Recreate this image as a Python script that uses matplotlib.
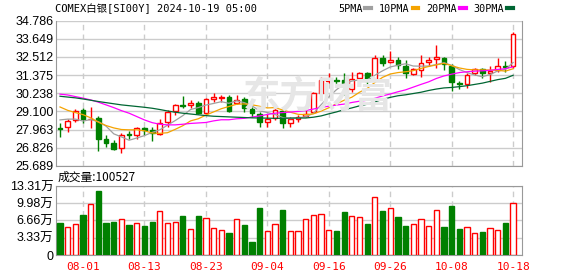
import matplotlib.pyplot as plt
import numpy as np

# COMEX silver daily K-line, 60 sessions
title = 'COMEX白银[SI00Y] 2024-10-19 05:00'
dates = ['07-29', '07-30', '07-31', '08-01', '08-02', '08-05', '08-06', '08-07', '08-08', '08-09',
         '08-12', '08-13', '08-14', '08-15', '08-16', '08-19', '08-20', '08-21', '08-22', '08-23',
         '08-26', '08-27', '08-28', '08-29', '08-30', '09-02', '09-03', '09-04', '09-05', '09-06',
         '09-09', '09-10', '09-11', '09-12', '09-13', '09-16', '09-17', '09-18', '09-19', '09-20',
         '09-23', '09-24', '09-25', '09-26', '09-27', '09-30', '10-01', '10-02', '10-03', '10-04',
         '10-07', '10-08', '10-09', '10-10', '10-11', '10-14', '10-15', '10-16', '10-17', '10-18']
opens = [28.08, 28.11, 28.57, 29.20, 28.60, 28.68, 27.38, 27.15, 26.80, 27.72,
         27.63, 28.05, 27.94, 27.69, 28.46, 29.15, 29.50, 29.52, 29.63, 29.00,
         29.90, 29.95, 30.00, 29.65, 29.86, 29.26, 28.94, 28.46, 28.68, 29.15,
         28.36, 28.65, 28.82, 29.09, 30.28, 31.03, 31.06, 31.07, 30.49, 31.18,
         31.53, 31.07, 32.43, 32.18, 32.33, 31.97, 31.45, 31.70, 32.18, 32.36,
         32.43, 31.91, 30.86, 30.82, 31.49, 31.74, 31.49, 31.70, 31.91, 31.91]
highs = [28.36, 28.61, 29.24, 29.30, 29.40, 28.82, 27.63, 27.32, 27.74, 27.90,
         28.11, 28.11, 28.15, 28.61, 29.20, 29.57, 30.07, 29.80, 29.77, 29.96,
         30.26, 30.14, 30.13, 30.13, 29.99, 29.40, 29.09, 28.94, 29.57, 29.30,
         28.74, 28.88, 29.24, 30.34, 31.28, 31.49, 31.28, 31.53, 31.59, 31.59,
         31.59, 32.64, 32.64, 32.85, 32.51, 32.32, 31.84, 32.64, 32.49, 33.26,
         32.53, 32.05, 31.00, 31.49, 31.84, 31.80, 31.91, 32.43, 32.24, 34.06]
lows = [27.52, 27.84, 28.46, 28.36, 28.05, 26.65, 26.90, 26.69, 26.53, 27.36,
        27.36, 27.63, 27.27, 27.63, 28.15, 28.88, 29.30, 29.30, 28.91, 28.91,
        29.72, 29.72, 29.09, 29.57, 29.09, 28.74, 28.11, 28.15, 28.57, 28.05,
        28.11, 28.46, 28.74, 29.03, 30.24, 30.86, 30.82, 30.13, 30.34, 31.07,
        30.82, 31.03, 31.91, 32.12, 31.76, 31.22, 31.40, 31.28, 31.91, 31.81,
        31.70, 30.40, 30.49, 30.59, 31.40, 31.18, 30.97, 31.59, 31.59, 31.84]
closes = [28.02, 28.53, 29.15, 28.61, 28.65, 27.36, 27.15, 26.74, 27.63, 27.62,
          28.05, 27.92, 27.74, 28.40, 29.09, 29.49, 29.46, 29.65, 29.00, 29.90,
          30.00, 29.98, 29.15, 29.80, 29.30, 29.00, 28.46, 28.60, 29.20, 28.36,
          28.61, 28.74, 28.95, 30.24, 31.07, 31.05, 31.00, 30.76, 31.11, 31.49,
          31.03, 32.43, 32.16, 32.30, 32.01, 31.49, 31.74, 32.12, 32.33, 32.49,
          32.05, 30.93, 30.80, 31.40, 31.74, 31.49, 31.63, 31.91, 31.86, 33.93]
ma5 = [28.57, 28.62, 28.62, 28.50, 28.59, 28.46, 28.18, 27.70, 27.51, 27.30,
       27.44, 27.59, 27.79, 27.95, 28.24, 28.53, 28.84, 29.22, 29.34, 29.50,
       29.60, 29.71, 29.61, 29.77, 29.65, 29.45, 29.14, 29.03, 28.91, 28.72,
       28.65, 28.70, 28.77, 28.98, 29.52, 30.01, 30.46, 30.82, 31.00, 31.08,
       31.08, 31.36, 31.64, 31.88, 31.99, 32.08, 31.94, 31.93, 31.94, 32.03,
       32.15, 31.98, 31.72, 31.53, 31.38, 31.27, 31.41, 31.63, 31.73, 32.16]
ma10 = [29.38, 29.17, 29.03, 28.90, 28.70, 28.43, 28.22, 28.07, 27.97, 27.95,
        27.95, 27.89, 27.75, 27.73, 27.77, 27.98, 28.21, 28.51, 28.64, 28.87,
        29.07, 29.27, 29.41, 29.55, 29.57, 29.52, 29.42, 29.32, 29.34, 29.19,
        29.05, 28.92, 28.90, 28.95, 29.12, 29.33, 29.58, 29.80, 29.99, 30.30,
        30.54, 30.91, 31.23, 31.44, 31.53, 31.58, 31.65, 31.79, 31.91, 32.01,
        32.11, 31.96, 31.82, 31.73, 31.70, 31.70, 31.69, 31.67, 31.62, 31.77]
ma20 = [30.18, 30.13, 30.03, 29.93, 29.82, 29.68, 29.51, 29.34, 29.15, 28.99,
        28.78, 28.57, 28.40, 28.30, 28.26, 28.26, 28.30, 28.35, 28.38, 28.41,
        28.51, 28.58, 28.58, 28.64, 28.67, 28.75, 28.82, 28.91, 28.99, 29.03,
        29.06, 29.10, 29.16, 29.25, 29.35, 29.43, 29.50, 29.56, 29.66, 29.74,
        29.80, 29.92, 30.07, 30.19, 30.33, 30.45, 30.62, 30.79, 30.95, 31.16,
        31.32, 31.43, 31.53, 31.58, 31.62, 31.64, 31.67, 31.73, 31.77, 31.89]
ma30 = [30.05, 30.00, 29.95, 29.88, 29.80, 29.72, 29.65, 29.58, 29.51, 29.46,
        29.41, 29.36, 29.30, 29.22, 29.13, 29.05, 28.99, 28.94, 28.89, 28.84,
        28.80, 28.78, 28.76, 28.74, 28.72, 28.70, 28.69, 28.68, 28.67, 28.67,
        28.69, 28.69, 28.69, 28.74, 28.82, 28.95, 29.07, 29.21, 29.32, 29.45,
        29.55, 29.70, 29.85, 29.98, 30.08, 30.14, 30.22, 30.30, 30.41, 30.50,
        30.57, 30.60, 30.65, 30.71, 30.79, 30.87, 30.98, 31.09, 31.17, 31.36]
# volume in 万 (10k contracts)
volume = [6.24, 5.34, 5.92, 7.72, 9.84, 12.35, 6.24, 6.37, 6.88, 5.79,
          6.11, 5.59, 6.37, 8.42, 6.11, 6.30, 7.52, 4.95, 7.52, 7.07,
          5.14, 4.76, 4.31, 6.88, 5.79, 2.51, 9.07, 4.63, 5.98, 8.68,
          4.63, 4.63, 6.88, 7.72, 7.91, 4.82, 4.63, 8.29, 7.52, 7.27,
          5.98, 11.12, 8.49, 9.00, 7.33, 5.59, 5.98, 6.88, 5.59, 8.62,
          5.40, 9.45, 5.02, 5.34, 4.24, 4.44, 5.14, 4.76, 6.17, 10.0527]
tick_dates = ['08-01', '08-13', '08-23', '09-04', '09-16', '09-26', '10-08', '10-18']
price_ticks = [25.689, 26.826, 27.963, 29.100, 30.238, 31.375, 32.512, 33.649, 34.786]
vol_ticks = [0, 3.33, 6.66, 9.98, 13.31]

RED = '#ff0000'
GREEN = '#008000'
SPINE = '#999999'
GRID = '#cccccc'
num_font = ['Liberation Sans', 'Noto Sans CJK SC']
mono_font = ['DejaVu Sans Mono', 'Noto Sans CJK SC']

W, H = 578, 276
fig = plt.figure(figsize=(W / 100, H / 100), dpi=100)
ax = fig.add_axes([56 / W, 110 / H, 466 / W, 145.5 / H])
axv = fig.add_axes([56 / W, 21 / H, 466 / W, 69 / H], sharex=ax)

x = np.arange(len(dates))
o = np.array(opens); c = np.array(closes)
up = c >= o
col = np.where(up, RED, GREEN)

# watermark
fig.text(318 / W, 1 - 97 / H, '东方财富', fontsize=27, color='#e6e6e6', ha='center', va='center',
         family='Noto Sans CJK SC', weight='bold', zorder=0)

# candles
ax.vlines(x, lows, highs, colors=col, lw=1, zorder=2)
body = np.maximum(np.abs(c - o), 0.02)
ax.bar(x, body, bottom=np.minimum(o, c), width=0.62, color=np.where(up, 'white', GREEN),
       edgecolor=col, lw=1, zorder=3)

# moving averages
ax.plot(x, ma5, color='#a0a0a0', lw=0.9, label='5PMA', zorder=4)
ax.plot(x, ma10, color='#f5a300', lw=0.9, label='10PMA', zorder=4)
ax.plot(x, ma20, color='#ff00ff', lw=0.9, label='20PMA', zorder=4)
ax.plot(x, ma30, color='#006633', lw=0.9, label='30PMA', zorder=4)

tick_pos = [dates.index(d) for d in tick_dates]
ax.set_xlim(-0.52, 60.16)
ax.set_ylim(price_ticks[0], price_ticks[-1])
ax.set_yticks(price_ticks)
ax.set_yticklabels(['%.3f' % t for t in price_ticks], fontsize=9, family=num_font)
ax.set_xticks(tick_pos)
ax.tick_params(length=0, pad=2, labelbottom=False)
ax.yaxis.grid(True, color=GRID, lw=1)
ax.xaxis.grid(True, color=GRID, lw=1, ls=(0, (4, 3)))
ax.set_axisbelow(True)
for s in ['left', 'right', 'bottom']:
    ax.spines[s].set_color(SPINE)
ax.spines['top'].set_visible(False)
ax.patch.set_alpha(0)

leg = ax.legend(loc='center right', bbox_to_anchor=(513 / W, 1 - 9 / H), bbox_transform=fig.transFigure,
                ncol=4, markerfirst=False, frameon=False, handlelength=0.55, handletextpad=0.3,
                columnspacing=0.8, borderaxespad=0, borderpad=0, prop={'family': mono_font, 'size': 7.3})
for hl in leg.legend_handles:
    hl.set_linewidth(3)

fig.text(55 / W, 1 - 9 / H, title, fontsize=7.5, family=mono_font, va='center', ha='left')

# volume
vcol = np.where(up, RED, GREEN)
axv.bar(x, volume, width=0.68, color=np.where(up, 'white', GREEN), edgecolor=vcol, lw=1, zorder=3)
axv.set_ylim(0, vol_ticks[-1])
axv.set_yticks(vol_ticks)
axv.set_yticklabels(['0'] + ['%.2f万' % t for t in vol_ticks[1:]], fontsize=9, family=num_font)
axv.set_xticks(tick_pos)
axv.set_xticklabels(tick_dates, color=RED, fontsize=8, family=mono_font)
axv.tick_params(length=0, pad=2)
axv.tick_params(axis='x', pad=5)
axv.yaxis.grid(True, color=GRID, lw=1)
axv.xaxis.grid(True, color=GRID, lw=1, ls=(0, (4, 3)))
axv.set_axisbelow(True)
for s in axv.spines.values():
    s.set_color(SPINE)

fig.text(58 / W, 1 - 177 / H, '成交量:%d' % round(volume[-1] * 10000), fontsize=8.5,
         family=['Noto Sans CJK SC'], va='center', ha='left')

fig.savefig('out.png', dpi=100)
